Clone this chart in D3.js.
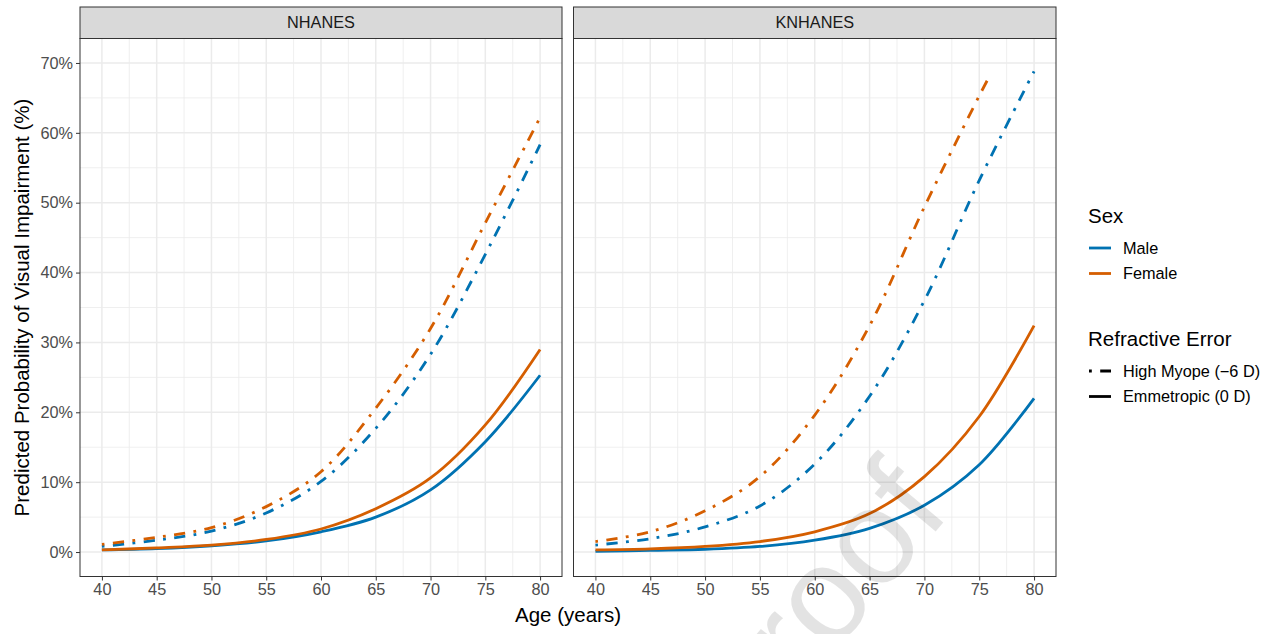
<!DOCTYPE html>
<html>
<head>
<meta charset="utf-8">
<script src="https://cdn.jsdelivr.net/npm/d3@7"></script>
<style>
  body { margin: 0; background: #fff; }
  text { font-family: "Liberation Sans", Arial, sans-serif; }
</style>
</head>
<body>
<script>
// predicted probability of visual impairment (%)
const ages = [40, 45, 50, 55, 60, 65, 70, 75, 80];
const panels = ["NHANES", "KNHANES"];

const nhMaleEmm      = [0.3, 0.5, 0.9, 1.6, 2.9, 5.0, 8.9, 15.8, 25.3];
const nhFemaleEmm    = [0.3, 0.6, 1.0, 1.8, 3.3, 6.2, 10.6, 18.2, 29.0];
const nhMaleMyope    = [0.8, 1.7, 3.0, 5.6, 10.1, 17.7, 28.3, 42.6, 58.3];
const nhFemaleMyope  = [1.1, 2.1, 3.5, 6.5, 11.5, 20.6, 32.0, 47.1, 62.2];

const knMaleEmm      = [0.1, 0.25, 0.4, 0.8, 1.7, 3.4, 6.7, 12.5, 22.0];
const knFemaleEmm    = [0.3, 0.45, 0.8, 1.5, 2.9, 5.5, 10.8, 19.4, 32.4];
const knMaleMyope    = [1.0, 1.9, 3.6, 6.6, 12.6, 22.3, 36.0, 53.2, 68.8];
// this one runs past the 70% limit, so it stops early
const knFemaleMyopeAges = [40, 45, 50, 55, 60, 65, 70, 75, 75.8];
const knFemaleMyope  = [1.5, 2.9, 5.9, 10.8, 19.6, 32.4, 49.4, 65.3, 67.7];

const xTicks = [40, 45, 50, 55, 60, 65, 70, 75, 80];
const yTicks = [0, 10, 20, 30, 40, 50, 60, 70];

const sexes = ["Male", "Female"];
const errors = ["High Myope (\u22126 D)", "Emmetropic (0 D)"];

const colors = { Male: "#0072B2", Female: "#D55E00" };
const dashes = { "High Myope (\u22126 D)": "2.8,8.4,11.2,8.4", "Emmetropic (0 D)": null };

function series(panel, sex, err, xs, ys) {
  return { panel, sex, err, pts: xs.map((a, i) => [a, ys[i]]) };
}
const lines = [
  series("NHANES", "Male", errors[1], ages, nhMaleEmm),
  series("NHANES", "Female", errors[1], ages, nhFemaleEmm),
  series("NHANES", "Male", errors[0], ages, nhMaleMyope),
  series("NHANES", "Female", errors[0], ages, nhFemaleMyope),
  series("KNHANES", "Male", errors[1], ages, knMaleEmm),
  series("KNHANES", "Female", errors[1], ages, knFemaleEmm),
  series("KNHANES", "Male", errors[0], ages, knMaleMyope),
  series("KNHANES", "Female", errors[0], knFemaleMyopeAges, knFemaleMyope)
];

const W = 1275, H = 634;
const plotTop = 38.5, plotBottom = 576.5, stripH = 31.5;
const panelX = { NHANES: [80, 562], KNHANES: [573.5, 1056] };

const svg = d3.select("body").append("svg")
    .attr("width", W)
    .attr("height", H);

const y = d3.scaleLinear().domain([-3.5, 73.5]).range([plotBottom, plotTop]);

panels.forEach(p => {
  const [x0, x1] = panelX[p];
  const x = d3.scaleLinear().domain([38, 82]).range([x0, x1]);
  const g = svg.append("g");

  // minor grid
  g.selectAll(".vmin").data(d3.range(42.5, 80, 5)).enter().append("line")
      .attr("x1", d => x(d)).attr("x2", d => x(d))
      .attr("y1", plotTop).attr("y2", plotBottom)
      .style("stroke", "#ebebeb").style("stroke-width", 0.8);
  g.selectAll(".hmin").data(d3.range(5, 75, 10)).enter().append("line")
      .attr("x1", x0).attr("x2", x1)
      .attr("y1", d => y(d)).attr("y2", d => y(d))
      .style("stroke", "#ebebeb").style("stroke-width", 0.8);
  // major grid
  g.selectAll(".vmaj").data(xTicks).enter().append("line")
      .attr("x1", d => x(d)).attr("x2", d => x(d))
      .attr("y1", plotTop).attr("y2", plotBottom)
      .style("stroke", "#ebebeb").style("stroke-width", 1.5);
  g.selectAll(".hmaj").data(yTicks).enter().append("line")
      .attr("x1", x0).attr("x2", x1)
      .attr("y1", d => y(d)).attr("y2", d => y(d))
      .style("stroke", "#ebebeb").style("stroke-width", 1.5);

  const line = d3.line()
      .x(d => x(d[0]))
      .y(d => y(d[1]))
      .curve(d3.curveCatmullRom.alpha(0.5));

  g.selectAll(".series").data(lines.filter(l => l.panel === p)).enter().append("path")
      .attr("d", d => line(d.pts))
      .style("fill", "none")
      .style("stroke", d => colors[d.sex])
      .style("stroke-width", 2.8)
      .style("stroke-dasharray", d => dashes[d.err]);

  // panel border
  g.append("rect")
      .attr("x", x0).attr("y", plotTop)
      .attr("width", x1 - x0).attr("height", plotBottom - plotTop)
      .style("fill", "none").style("stroke", "#333").style("stroke-width", 1);

  // strip
  g.append("rect")
      .attr("x", x0).attr("y", plotTop - stripH)
      .attr("width", x1 - x0).attr("height", stripH)
      .style("fill", "#d9d9d9").style("stroke", "#333").style("stroke-width", 1);
  g.append("text")
      .attr("x", (x0 + x1) / 2).attr("y", plotTop - stripH / 2)
      .attr("dy", "0.35em")
      .attr("text-anchor", "middle")
      .style("font-size", "16.3px").style("fill", "#1a1a1a")
      .text(p);

  // x axis
  const xa = g.append("g")
      .attr("transform", `translate(0,${plotBottom})`)
      .call(d3.axisBottom(x).tickValues(xTicks).tickSize(4).tickPadding(3));
  xa.select(".domain").remove();
  xa.selectAll(".tick line").style("stroke", "#333");
  xa.selectAll(".tick text").style("font-size", "16.3px").style("fill", "#4d4d4d")
      .style("font-family", "Liberation Sans, Arial, sans-serif");
});

// y axis (left panel only)
const ya = svg.append("g")
    .attr("transform", `translate(${panelX.NHANES[0]},0)`)
    .call(d3.axisLeft(y).tickValues(yTicks).tickFormat(d => d + "%").tickSize(4).tickPadding(3));
ya.select(".domain").remove();
ya.selectAll(".tick line").style("stroke", "#333");
ya.selectAll(".tick text").style("font-size", "16.3px").style("fill", "#4d4d4d")
    .style("font-family", "Liberation Sans, Arial, sans-serif");

// axis titles
svg.append("text")
    .attr("x", (panelX.NHANES[0] + panelX.KNHANES[1]) / 2).attr("y", 622)
    .attr("text-anchor", "middle")
    .style("font-size", "20.5px").style("fill", "#000")
    .text("Age (years)");
svg.append("text")
    .attr("transform", `translate(29,${(plotTop + plotBottom) / 2}) rotate(-90)`)
    .attr("text-anchor", "middle")
    .style("font-size", "20.5px").style("fill", "#000")
    .text("Predicted Probability of Visual Impairment (%)");

// legends
const leg = svg.append("g");
leg.append("text").attr("x", 1088).attr("y", 223)
    .style("font-size", "20.5px").text("Sex");
sexes.forEach((s, i) => {
  const cy = 248 + i * 25.5;
  leg.append("line").attr("x1", 1089).attr("x2", 1111).attr("y1", cy).attr("y2", cy)
      .style("stroke", colors[s]).style("stroke-width", 2.8);
  leg.append("text").attr("x", 1123).attr("y", cy).attr("dy", "0.35em")
      .style("font-size", "16.3px").text(s);
});
leg.append("text").attr("x", 1088).attr("y", 346)
    .style("font-size", "20.5px").text("Refractive Error");
errors.forEach((e, i) => {
  const cy = 371 + i * 25.5;
  leg.append("line").attr("x1", 1089).attr("x2", 1111).attr("y1", cy).attr("y2", cy)
      .style("stroke", "#000").style("stroke-width", 2.8)
      .style("stroke-dasharray", dashes[e]);
  leg.append("text").attr("x", 1123).attr("y", cy).attr("dy", "0.35em")
      .style("font-size", "16.3px").text(e);
});

// watermark
svg.append("text")
    .attr("transform", "translate(952,512) rotate(-50)")
    .attr("text-anchor", "end")
    .style("font-size", "135px")
    .style("fill", "#000").style("fill-opacity", 0.11)
    .text("Journal Pre-proof");
</script>
</body>
</html>
